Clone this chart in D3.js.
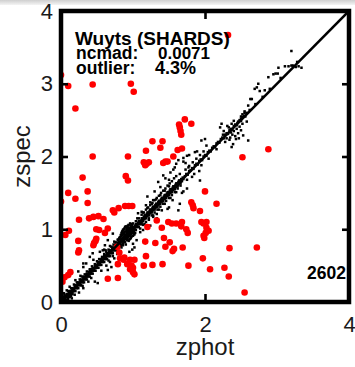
<!DOCTYPE html>
<html><head><meta charset="utf-8">
<script src="https://cdn.jsdelivr.net/npm/d3@7"></script>
<style>
html,body{margin:0;padding:0;background:#fff;}
svg{display:block;}
text{font-family:"Liberation Sans",Arial,Helvetica,sans-serif;}
</style></head>
<body>
<script>
// ---------- data ----------
const xTicks = [0, 2, 4];
const yTicks = [0, 1, 2, 3, 4];
const labelTitle = "Wuyts (SHARDS)";
const labelNcmad = ["ncmad:", "0.0071"];
const labelOutlier = ["outlier:", "4.3%"];
const sampleCount = "2602";

// good fits [zphot, zspec]
const goodFits = [
[0.02,0.02],[0.03,0.05],[0.04,0.03],[0.05,0.06],[0.06,0.05],[0.07,0.08],[0.08,0.07],[0.09,0.10],[0.10,0.09],[0.11,0.12],[0.12,0.10],[0.13,0.14],[0.14,0.13],[0.15,0.16],[0.16,0.14],[0.17,0.18],[0.18,0.17],[0.19,0.21],[0.20,0.19],[0.21,0.22],[0.22,0.20],[0.23,0.25],[0.24,0.23],[0.25,0.26],[0.26,0.24],[0.27,0.29],[0.28,0.27],[0.29,0.30],[0.30,0.28],[0.31,0.33],[0.32,0.31],[0.33,0.34],[0.34,0.32],[0.35,0.37],[0.36,0.35],[0.37,0.38],[0.38,0.36],[0.39,0.41],[0.40,0.39],[0.41,0.42],[0.42,0.40],[0.43,0.45],[0.44,0.43],[0.45,0.46],[0.46,0.44],[0.47,0.49],[0.48,0.47],[0.49,0.50],[0.50,0.48],[0.51,0.53],[0.52,0.51],[0.53,0.54],[0.54,0.52],[0.55,0.57],[0.56,0.55],[0.57,0.58],[0.58,0.56],[0.59,0.61],[0.60,0.59],[0.61,0.62],[0.62,0.60],[0.63,0.65],[0.64,0.63],[0.65,0.66],[0.66,0.64],[0.67,0.69],[0.68,0.67],[0.69,0.70],[0.70,0.68],[0.71,0.73],[0.72,0.71],[0.73,0.74],[0.74,0.72],[0.75,0.77],[0.76,0.75],[0.77,0.78],[0.78,0.76],[0.79,0.81],[0.80,0.79],[0.81,0.82],[0.82,0.80],[0.83,0.85],[0.84,0.83],[0.85,0.86],[0.86,0.84],[0.87,0.89],[0.88,0.87],[0.89,0.90],[0.90,0.88],[0.91,0.93],[0.92,0.91],[0.93,0.94],[0.94,0.92],[0.95,0.97],[0.96,0.95],[0.97,0.98],[0.98,0.96],[0.99,1.01],[1.00,0.99],[1.01,1.02],[1.02,1.00],[1.03,1.05],[1.04,1.03],[1.05,1.06],[1.06,1.04],[1.07,1.09],[1.08,1.07],[1.09,1.10],[1.10,1.08],
[0.05,0.10],[0.10,0.15],[0.14,0.19],[0.18,0.24],[0.22,0.27],[0.26,0.31],[0.29,0.35],[0.33,0.38],[0.36,0.42],[0.40,0.45],[0.43,0.49],[0.47,0.52],[0.50,0.56],[0.53,0.59],[0.57,0.62],[0.60,0.66],[0.63,0.69],[0.66,0.72],[0.70,0.76],[0.73,0.79],[0.76,0.82],[0.79,0.86],[0.82,0.89],[0.85,0.92],[0.88,0.96],[0.91,0.99],[0.94,1.02],[0.97,1.05],[1.00,1.08],[1.04,1.11],[1.08,1.15],
[0.08,0.03],[0.12,0.07],[0.16,0.11],[0.20,0.15],[0.24,0.19],[0.28,0.23],[0.32,0.27],[0.36,0.31],[0.40,0.35],[0.44,0.39],[0.48,0.43],[0.52,0.47],[0.56,0.51],[0.60,0.55],[0.64,0.59],[0.68,0.63],[0.72,0.67],[0.76,0.71],[0.80,0.75],[0.84,0.79],[0.88,0.83],[0.92,0.87],[0.96,0.91],[1.00,0.95],[1.04,0.99],[1.08,1.03],[1.12,1.07],
[0.04,0.07],[0.08,0.11],[0.12,0.15],[0.16,0.19],[0.20,0.23],[0.24,0.27],[0.28,0.31],[0.32,0.35],[0.36,0.39],[0.40,0.43],[0.44,0.47],[0.48,0.51],[0.52,0.55],[0.56,0.59],[0.60,0.63],[0.64,0.67],[0.68,0.71],[0.72,0.75],[0.76,0.79],[0.80,0.83],[0.84,0.87],[0.88,0.91],[0.92,0.95],[0.96,0.99],[1.00,1.03],[1.04,1.07],[1.08,1.11],[1.12,1.15],[1.16,1.19],[1.20,1.23],[1.24,1.27],[1.28,1.31],[1.32,1.35],[1.36,1.39],[1.40,1.43],[1.44,1.47],[1.48,1.51],[1.52,1.55],[1.56,1.59],[1.60,1.63],[1.64,1.67],
[0.06,0.03],[0.10,0.07],[0.14,0.11],[0.18,0.15],[0.22,0.19],[0.26,0.23],[0.30,0.27],[0.34,0.31],[0.38,0.35],[0.42,0.39],[0.46,0.43],[0.50,0.47],[0.54,0.51],[0.58,0.55],[0.62,0.59],[0.66,0.63],[0.70,0.67],[0.74,0.71],[0.78,0.75],[0.82,0.79],[0.86,0.83],[0.90,0.87],[0.94,0.91],[0.98,0.95],[1.02,0.99],[1.06,1.03],[1.10,1.07],[1.14,1.11],[1.18,1.15],[1.22,1.19],[1.26,1.23],[1.30,1.27],[1.34,1.31],[1.38,1.35],[1.42,1.39],[1.46,1.43],[1.50,1.47],[1.54,1.51],[1.58,1.55],[1.62,1.59],[1.66,1.63],
[0.62,0.71],[0.68,0.77],[0.74,0.83],[0.86,0.95],[0.92,1.01],[0.98,1.07],[1.06,1.15],[1.14,1.23],[1.20,1.29],[1.26,1.35],[1.32,1.41],[1.38,1.47],[1.44,1.53],[1.50,1.59],[0.66,0.57],[0.72,0.63],[0.78,0.69],[0.84,0.75],[0.96,0.87],[1.02,0.93],[1.10,1.01],[1.16,1.07],[1.22,1.13],[1.28,1.19],[1.36,1.27],[1.44,1.35],[1.52,1.43],[1.60,1.51],
[0.87,1.00],[0.89,1.03],[0.91,1.01],[0.93,1.05],[0.85,0.97],[0.88,0.93],[0.90,0.92],[0.92,0.97],[0.94,0.97],[0.96,1.00],[0.98,1.02],[0.86,0.88],[0.88,0.85],[0.91,0.88],[0.93,0.89],[0.95,0.92],[0.97,0.93],[0.99,0.97],[1.01,0.97],[0.84,0.90],[0.82,0.86],
[0.84,0.95],[0.86,0.99],[0.88,1.01],[0.90,1.04],[0.92,1.03],[0.94,1.06],[0.96,1.08],[0.83,0.92],[0.87,0.94],[0.89,0.97],[0.91,0.96],[0.93,0.99],[0.95,1.01],[0.97,1.03],[0.99,1.06],[0.86,0.80],[0.89,0.82],[0.92,0.85],[0.95,0.86],[0.98,0.90],[1.01,0.93],[0.90,0.79],[0.94,0.84],[0.97,0.88],[1.00,0.91],[1.03,0.95],[0.81,0.88],[0.79,0.85],[0.83,0.77],[0.80,0.74],
[0.04,0.12],[0.02,0.09],[0.08,0.16],[0.12,0.21],[0.06,0.01],[0.10,0.04],[0.14,0.08],[0.15,0.05],[0.24,0.42],[0.31,0.48],[0.35,0.53],[0.31,0.53],[0.40,0.62],[0.44,0.67],[0.54,0.69],[0.65,0.85],[0.61,0.78],[0.72,0.94],[0.47,0.28],[0.51,0.26],[0.31,0.19],[0.65,0.44],[0.70,0.48],[0.77,0.53],[0.82,0.67],[0.88,0.58],[0.86,0.78],[1.00,0.80],[0.95,0.69],[0.20,0.30],[0.27,0.36],[0.38,0.28],[0.45,0.58],[0.58,0.71],[0.68,0.55],[0.74,0.60],[0.56,0.43],[0.42,0.33],[0.30,0.22],[0.25,0.13],[0.19,0.10],[0.60,0.72],[0.63,0.50],[0.78,0.66],[1.02,0.75],[1.05,0.85],[0.99,0.72],
[1.11,1.12],[1.12,1.10],[1.13,1.15],[1.14,1.13],[1.15,1.17],[1.16,1.14],[1.17,1.19],[1.18,1.17],[1.19,1.21],[1.20,1.18],[1.21,1.23],[1.22,1.21],[1.23,1.25],[1.24,1.22],[1.25,1.27],[1.26,1.25],[1.27,1.29],[1.28,1.26],[1.29,1.31],[1.30,1.29],[1.31,1.33],[1.32,1.30],[1.33,1.35],[1.34,1.33],[1.35,1.37],[1.36,1.34],[1.37,1.39],[1.38,1.37],[1.39,1.41],[1.40,1.38],[1.41,1.43],[1.42,1.41],[1.43,1.45],[1.44,1.42],[1.45,1.47],[1.46,1.45],[1.47,1.49],[1.48,1.46],[1.49,1.51],[1.50,1.49],[1.51,1.53],[1.52,1.50],[1.53,1.55],[1.54,1.53],[1.55,1.57],[1.56,1.54],[1.57,1.59],[1.58,1.57],[1.59,1.61],[1.60,1.58],[1.61,1.63],[1.62,1.61],[1.63,1.65],[1.64,1.62],[1.65,1.67],[1.66,1.65],[1.67,1.69],[1.68,1.66],[1.69,1.71],[1.70,1.69],
[1.12,1.20],[1.15,1.23],[1.18,1.27],[1.21,1.30],[1.24,1.33],[1.27,1.36],[1.30,1.40],[1.33,1.43],[1.36,1.46],[1.39,1.50],[1.42,1.53],[1.45,1.56],[1.48,1.60],[1.51,1.63],[1.54,1.66],[1.57,1.70],[1.60,1.73],[1.14,1.06],[1.18,1.10],[1.22,1.15],[1.26,1.19],[1.30,1.23],[1.34,1.27],[1.38,1.31],[1.42,1.35],[1.46,1.39],[1.50,1.43],[1.54,1.47],[1.58,1.51],[1.62,1.56],[1.66,1.60],
[1.42,1.74],[1.35,1.65],[1.65,1.76],[1.77,1.85],[1.60,1.90],[1.28,1.40],[1.24,1.37],[1.12,1.24],[1.07,1.22],[1.65,1.35],[1.63,1.26],[1.40,1.26],[1.28,1.17],[1.33,1.15],[1.24,1.05],[1.10,0.96],[1.14,0.99],[1.33,1.21],[1.50,1.30],[1.55,1.40],[1.20,1.45],[1.45,1.70],[1.52,1.78],[1.56,1.82],[1.38,1.58],[1.30,1.52],[1.18,1.33],[1.48,1.28],[1.70,1.52],[1.58,1.85],[1.63,1.95],[1.70,1.98],[1.50,1.68],[1.93,1.67],[1.75,1.56],[1.68,1.50],
[1.72,1.73],[1.74,1.76],[1.76,1.75],[1.78,1.80],[1.80,1.81],[1.82,1.84],[1.84,1.83],[1.86,1.88],[1.88,1.90],[1.90,1.89],[1.92,1.94],[1.94,1.96],[1.96,1.95],[1.98,2.00],[2.00,2.02],[2.02,2.01],[2.04,2.06],[2.06,2.08],[2.08,2.07],[2.10,2.12],[1.73,1.82],[1.78,1.87],[1.83,1.92],[1.88,1.97],[1.93,2.02],[1.98,2.07],[1.75,1.68],[1.85,1.76],[1.95,1.88],[2.05,1.97],
[1.95,2.22],[2.00,2.24],[2.02,2.15],[1.86,2.06],[1.89,2.07],[1.75,2.01],[1.78,2.02],[1.70,1.93],[1.73,1.91],[2.16,2.10],[1.92,1.80],[1.82,1.72],
[2.12,2.14],[2.14,2.13],[2.16,2.18],[2.18,2.20],[2.20,2.19],[2.22,2.24],[2.24,2.26],[2.26,2.25],[2.28,2.30],[2.30,2.32],[2.32,2.31],[2.34,2.36],[2.36,2.38],[2.38,2.37],[2.40,2.42],[2.42,2.44],[2.44,2.43],[2.46,2.48],[2.48,2.50],[2.50,2.49],[2.52,2.54],[2.54,2.56],[2.56,2.55],[2.58,2.60],
[2.21,2.40],[2.23,2.45],[2.35,2.26],[2.38,2.30],[2.40,2.35],[2.42,2.28],[2.44,2.38],[2.46,2.32],[2.48,2.41],[2.50,2.36],[2.52,2.45],[2.53,2.29],[2.37,2.45],[2.40,2.49],[2.45,2.46],[2.33,2.40],[2.30,2.25],[2.28,2.20],[2.39,2.17],[2.37,2.13],[2.60,2.22],[2.34,2.23],[2.43,2.24],[2.47,2.25],[2.36,2.33],[2.26,2.35],[2.25,2.30],[2.31,2.42],[2.55,2.60],[2.50,2.52],[2.58,2.48],
[2.63,2.79],[2.60,2.70],[2.55,2.62],[2.52,2.58],[2.50,2.55],[2.65,2.79],[2.72,2.95],[2.69,2.93],[2.74,3.00],[2.76,2.90],[2.83,2.91],[2.88,3.09],[2.95,3.13],[2.98,3.14],[3.01,3.14],[3.02,3.22],[3.11,3.24],[3.16,3.24],[3.20,3.25],[3.26,3.23],[3.30,3.24],[3.34,3.22],[3.20,3.45],[2.70,2.72],[2.80,2.82],[2.90,2.93],[3.05,3.08],[3.22,3.25],[3.28,3.30],[2.62,2.64]
];

// outliers [zphot, zspec]
const outliers = [
[2.32,3.67],[0.10,2.97],[0.44,2.99],[0.97,3.00],[1.01,2.89],[0.20,2.66],[0.00,3.12],[1.72,2.51],[1.64,2.44],[1.65,2.40],[1.66,2.35],[1.67,2.30],[1.81,2.45],[1.27,2.21],[1.41,2.21],[1.38,2.12],[1.18,2.08],[1.68,2.11],[1.62,2.09],[2.88,2.10],[2.52,1.99],[0.44,2.00],[0.93,2.00],[1.56,2.00],[1.15,1.92],[1.19,1.90],[1.22,1.92],[1.17,1.88],[1.42,1.91],[1.45,1.93],[1.48,1.93],[0.30,1.71],[0.90,1.73],[0.93,1.67],[0.10,1.50],[0.37,1.52],[0.20,1.42],[0.37,1.36],[0.00,1.38],[2.00,1.52],[2.16,1.35],[1.81,1.37],[1.83,1.33],[1.84,1.29],[1.93,1.25],[0.72,1.26],[0.74,1.23],[0.80,1.29],[0.89,1.32],[0.94,1.32],[0.99,1.32],[0.39,1.15],[0.45,1.17],[0.52,1.18],[0.59,1.14],[0.25,1.13],[0.49,1.00],[0.53,0.99],[0.65,1.01],[0.61,0.95],[0.11,0.98],[0.06,0.92],[0.49,0.87],[0.48,0.84],[0.46,0.81],[0.45,0.78],[0.24,0.84],[0.25,0.71],[0.24,0.68],[1.33,1.12],[1.49,1.10],[1.54,1.08],[1.60,1.08],[1.68,1.10],[1.95,1.10],[1.98,1.08],[2.02,1.10],[2.02,1.02],[2.05,0.98],[2.01,0.95],[1.98,0.91],[1.99,0.88],[1.67,1.04],[1.74,1.00],[1.76,0.95],[1.40,1.02],[1.20,1.03],[1.17,0.83],[1.31,0.81],[1.43,0.88],[1.45,0.76],[1.51,0.82],[1.57,0.73],[1.55,0.70],[1.69,0.75],[2.34,0.74],[2.72,0.75],[0.78,0.76],[0.81,0.68],[1.18,0.63],[0.82,0.60],[0.87,0.58],[0.88,0.61],[0.96,0.58],[1.02,0.58],[0.79,0.52],[0.92,0.52],[0.98,0.50],[1.00,0.47],[0.96,0.45],[1.00,0.41],[1.02,0.38],[1.15,0.50],[1.27,0.51],[1.41,0.52],[1.77,0.50],[1.97,0.60],[2.07,0.45],[2.27,0.47],[2.33,0.35],[2.55,0.13],[0.65,0.32],[0.79,0.33],[0.13,0.41],[0.10,0.37],[0.05,0.34],[0.02,0.28]
];

// ---------- drawing ----------
const W = 355, H = 367;
const pLeft = 61, pRight = 349, pTop = 11, pBottom = 302;

const svg = d3.select("body").append("svg").attr("width", W).attr("height", H);

const defs = svg.append("defs");
const grad = defs.append("linearGradient").attr("id","topg").attr("x1",0).attr("x2",0).attr("y1",0).attr("y2",1);
grad.append("stop").attr("offset","0%").attr("stop-color","#cfcfcf");
grad.append("stop").attr("offset","100%").attr("stop-color","#f4f4f4");
svg.append("rect").attr("x",0).attr("y",0).attr("width",W).attr("height",5).attr("fill","url(#topg)");

const x = d3.scaleLinear().domain([0, 4]).range([pLeft, pRight]);
const y = d3.scaleLinear().domain([0, 4]).range([pBottom, pTop]);

const clip = defs.append("clipPath").attr("id","plotclip");
clip.append("rect").attr("x",pLeft).attr("y",pTop).attr("width",pRight-pLeft).attr("height",pBottom-pTop);

const plot = svg.append("g").attr("clip-path","url(#plotclip)");

plot.append("g").selectAll("rect").data(goodFits).join("rect")
  .attr("x", d => x(d[0]) - 1.25).attr("y", d => y(d[1]) - 1.25)
  .attr("width", 2.5).attr("height", 2.5).attr("fill", "#000");

plot.append("g").selectAll("circle").data(outliers).join("circle")
  .attr("cx", d => x(d[0])).attr("cy", d => y(d[1])).attr("r", 3.3).attr("fill", "#ff0000");

plot.append("line")
  .attr("x1", x(0)).attr("y1", y(0)).attr("x2", x(4)).attr("y2", y(4))
  .attr("stroke", "#000").attr("stroke-width", 2.6);

function styleAxis(g, fs) {
  g.select(".domain").remove();
  g.selectAll(".tick line").attr("stroke", "#000").attr("stroke-width", 2.6);
  g.selectAll(".tick text").attr("fill", "#1a1a1a").style("font-size", fs + "px")
   .style("font-family", '"Liberation Sans",Arial,Helvetica,sans-serif');
}
svg.append("g").attr("transform", `translate(0,${pBottom})`)
  .call(d3.axisBottom(x).tickValues(xTicks).tickFormat(d3.format("d")).tickSize(-8).tickPadding(14))
  .call(g => styleAxis(g, 22));
svg.append("g").attr("transform", `translate(0,${pTop})`)
  .call(d3.axisTop(x).tickValues(xTicks).tickFormat("").tickSize(-8))
  .call(g => styleAxis(g, 22));
svg.append("g").attr("transform", `translate(${pLeft},0)`)
  .call(d3.axisLeft(y).tickValues(yTicks).tickFormat(d3.format("d")).tickSize(-7).tickPadding(8))
  .call(g => styleAxis(g, 22));
svg.append("g").attr("transform", `translate(${pRight},0)`)
  .call(d3.axisRight(y).tickValues(yTicks).tickFormat("").tickSize(-7))
  .call(g => styleAxis(g, 22));

svg.append("rect").attr("x", pLeft).attr("y", pTop).attr("width", pRight - pLeft).attr("height", pBottom - pTop)
  .attr("fill", "none").attr("stroke", "#000").attr("stroke-width", 4.5);

svg.append("text").attr("x", (pLeft + pRight) / 2).attr("y", 355).attr("text-anchor", "middle")
  .attr("fill", "#1a1a1a").style("font-size", "24px").text("zphot");
svg.append("text").attr("transform", `translate(30,${(pTop + pBottom) / 2}) rotate(-90)`).attr("text-anchor", "middle")
  .attr("fill", "#1a1a1a").style("font-size", "24px").text("zspec");

// annotation block as one text element with one tspan per piece
const ann = svg.append("text").style("font-weight", "bold").attr("fill", "#000");
const rows = [
  [labelTitle, 75, 45, 19],
  [labelNcmad[0], 76, 59, 17.5],
  [labelNcmad[1], 158, 59, 17],
  [labelOutlier[0], 76, 74, 17.5],
  [labelOutlier[1], 155, 74, 18]
];
rows.forEach(r => {
  ann.append("tspan").attr("x", r[1]).attr("y", r[2]).style("font-size", r[3] + "px").text(r[0]);
});

svg.append("text").attr("x", 346).attr("y", 279).attr("text-anchor", "end")
  .style("font-weight", "bold").style("font-size", "17.5px").attr("fill", "#000").text(sampleCount);
</script>
</body></html>
